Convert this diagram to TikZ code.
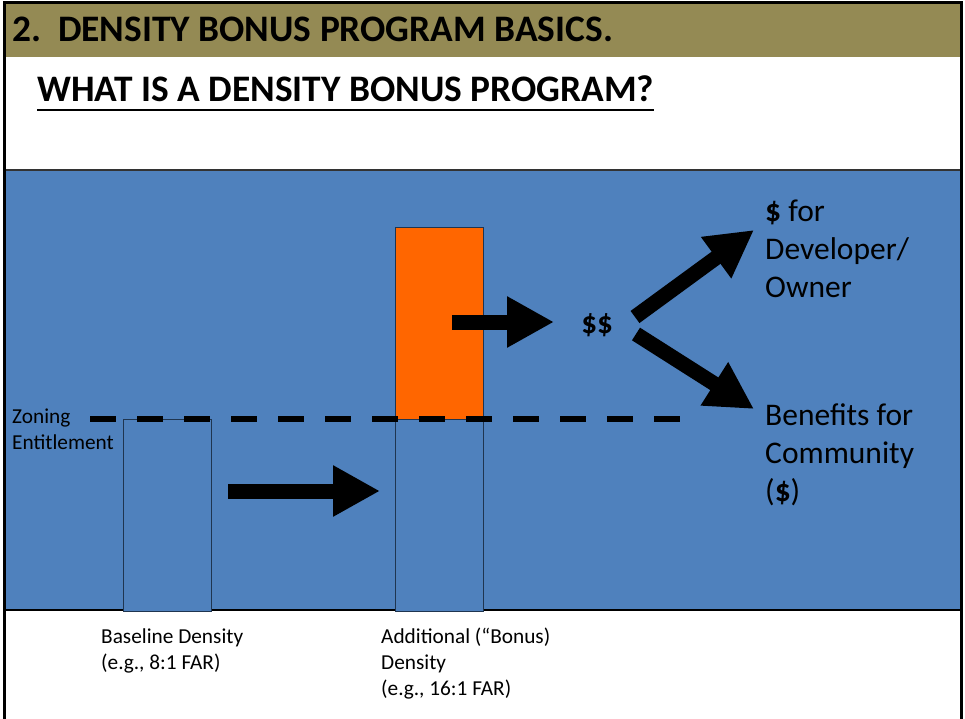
\documentclass[tikz,border=0pt]{standalone}
\usepackage{fontspec}
\setmainfont{Carlito}
\usepackage{tikz}
\usepackage{xcolor}
\usetikzlibrary{arrows.meta, positioning, calc}
\definecolor{headolive}{HTML}{948A54}
\definecolor{fieldblue}{HTML}{4F81BD}
\definecolor{bonusorange}{HTML}{FF6600}
\definecolor{edgenavy}{HTML}{1F3550}

\begin{document}
\begin{tikzpicture}[x=1pt, y=-1pt,
    bar/.style={draw=edgenavy, line width=0.9pt, minimum width=88pt, inner sep=0pt, anchor=north west},
    bigarr/.style={line width=15pt, -{Triangle[length=47pt, width=48pt]}},
    small/.style={font=\fontsize{21.3}{26}\selectfont, align=left, inner sep=0pt, anchor=base west},
    large/.style={font=\fontsize{31.5}{38}\selectfont, align=left, inner sep=0pt, anchor=base west},
    title/.style={font=\fontsize{37.4}{40}\selectfont\bfseries, inner sep=0pt, anchor=base west}
]
    \useasboundingbox (0,0) rectangle (965,719);
    % frame and panels
    \fill[headolive] (4,3) rectangle (961,57);
    \fill[fieldblue] (4,170) rectangle (961,610);
    \draw[line width=1.2pt, black!80] (4,170) -- (961,170);
    \draw[line width=1.5pt] (4,610) -- (961,610);
    \draw[line width=3pt] (4,719) -- (4,3) -- (961,3) -- (961,719);

    \node[title] (head) at (12,42) {2.\ \ DENSITY BONUS PROGRAM BASICS.};
    \node[title] (sub) at (37,102) {WHAT IS A DENSITY BONUS PROGRAM?};
    \draw[line width=2.5pt] ([yshift=-8pt]sub.base west) -- ([yshift=-8pt]sub.base east);

    % density bars
    \node[bar, fill=fieldblue, minimum height=192pt] (base) at (123,419) {};
    \node[bar, fill=fieldblue, minimum height=192pt] (bonus) at (395,419) {};
    \node[bar, fill=bonusorange, minimum height=192pt] (extra) at (395,227) {};

    \coordinate (zl) at (90,419);
    \coordinate (zr) at (681,419);
    \draw[line width=6.5pt, dash pattern=on 26pt off 21pt] (zl) -- (zr);

    % multi-line nodes sit on their last line
    \node[small] (zoning) at (12,449) {Zoning\\Entitlement};
    \node[small] (baselbl) at (101,669) {Baseline Density\\(e.g., 8:1 FAR)};
    \node[small] (bonuslbl) at (381,695) {Additional (“Bonus)\\Density\\(e.g., 16:1 FAR)};

    \node[font=\fontsize{31}{34}\selectfont\bfseries, inner sep=0pt] (cash) at (597,325) {\$\$};
    \node[large] (owner) at (765,297) {\textbf{\$} for\\Developer/\\Owner};
    \node[large] (community) at (765,501) {Benefits for\\Community\\(\textbf{\$})};

    % arrows
    \coordinate (a1s) at (228,491);
    \coordinate (a1e) at (380,491);
    \coordinate (a2s) at (452,322);
    \coordinate (a2e) at (554,322);
    \coordinate (a3s) at (635,317);
    \coordinate (a3e) at (754,230);
    \coordinate (a4s) at (636,334);
    \coordinate (a4e) at (754,409);
    \draw[bigarr] (a1s) -- (a1e);
    \draw[bigarr] (a2s) -- (a2e);
    \draw[bigarr] (a3s) -- (a3e);
    \draw[bigarr] (a4s) -- (a4e);
\end{tikzpicture}
\end{document}
